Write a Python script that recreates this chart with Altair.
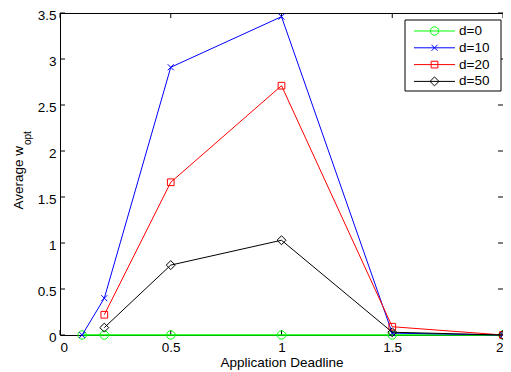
import altair as alt
import pandas as pd

# ---- data ----
x_vals = [0.1, 0.2, 0.5, 1.0, 1.5, 2.0]
series_names = ["d=0", "d=10", "d=20", "d=50"]
d0 = [0.0, 0.0, 0.0, 0.0, 0.0, 0.0]
d10 = [0.0, 0.40, 2.91, 3.46, 0.02, 0.0]
d20 = [None, 0.22, 1.66, 2.71, 0.09, 0.0]
d50 = [None, 0.08, 0.76, 1.03, 0.03, 0.0]
x_ticks = [0, 0.5, 1, 1.5, 2]
y_ticks = [0, 0.5, 1, 1.5, 2, 2.5, 3, 3.5]

colors = ["#00ff00", "#0000ff", "#ff0000", "#000000"]
X_PATH = "M-1,-1L1,1M-1,1L1,-1"
shapes = ["circle", X_PATH, "square", "diamond"]
sizes = [70, 36, 45, 80]

W, H = 443, 322
PAD_L = 52
FONT = "Liberation Sans"
FS = 13.5

xs = alt.Scale(domain=[0, 2], nice=False, zero=False)
ys = alt.Scale(domain=[0, 3.5], nice=False, zero=False)

layers = []

base_df = pd.DataFrame({"x": x_vals, "y": d0})
axis_layer = alt.Chart(base_df).mark_point(opacity=0).encode(
    x=alt.X("x:Q", scale=xs, axis=alt.Axis(values=x_ticks, format="~g", ticks=False, domain=False, grid=False,
                                          labelFont=FONT, labelFontSize=FS, labelColor="black",
                                          labelPadding=5, title="Application Deadline",
                                          titleFont=FONT, titleFontSize=FS, titleFontWeight="normal",
                                          titleColor="black", titlePadding=2)),
    y=alt.Y("y:Q", scale=ys, axis=alt.Axis(values=y_ticks, format="~g", ticks=False, domain=False, grid=False,
                                          labelFont=FONT, labelFontSize=FS, labelColor="black",
                                          labelPadding=4, labelOffset=2, title=None)),
)
layers.append(axis_layer)

# inward ticks
xt = pd.DataFrame({"x": x_ticks})
yt = pd.DataFrame({"y": y_ticks})
tick_len = 5
layers.append(alt.Chart(xt).mark_rule(color="black", strokeWidth=1).encode(
    x=alt.X("x:Q", scale=xs), y=alt.value(H), y2=alt.value(H - tick_len)))
layers.append(alt.Chart(xt).mark_rule(color="black", strokeWidth=1).encode(
    x=alt.X("x:Q", scale=xs), y=alt.value(0), y2=alt.value(tick_len)))
layers.append(alt.Chart(yt).mark_rule(color="black", strokeWidth=1).encode(
    y=alt.Y("y:Q", scale=ys), x=alt.value(0), x2=alt.value(tick_len)))
layers.append(alt.Chart(yt).mark_rule(color="black", strokeWidth=1).encode(
    y=alt.Y("y:Q", scale=ys), x=alt.value(W - tick_len), x2=alt.value(W)))

# series
all_series = [d0, d10, d20, d50]
for name, vals, col, shp, sz in zip(series_names, all_series, colors, shapes, sizes):
    df = pd.DataFrame({"x": x_vals, "y": vals}).dropna()
    sw = 1.6 if name == "d=0" else 1
    layers.append(alt.Chart(df).mark_line(color=col, strokeWidth=sw).encode(
        x=alt.X("x:Q", scale=xs), y=alt.Y("y:Q", scale=ys)))
    layers.append(alt.Chart(df).mark_point(color=col, shape=shp, size=sz, filled=False,
                                           strokeWidth=1, opacity=1).encode(
        x=alt.X("x:Q", scale=xs), y=alt.Y("y:Q", scale=ys)))

# y-axis title with subscript
dummy = pd.DataFrame({"a": [0]})
layers.append(alt.Chart(dummy).mark_text(text="Average w", angle=270, align="right", baseline="middle",
                                          font=FONT, fontSize=FS, color="black").encode(
    x=alt.value(-41), y=alt.value(133)))
layers.append(alt.Chart(dummy).mark_text(text="opt", angle=270, align="left", baseline="middle",
                                          font=FONT, fontSize=10, color="black").encode(
    x=alt.value(-32), y=alt.value(132)))

# legend
LX0 = W - 2 - 96
LX1 = W - 2
layers.append(alt.Chart(dummy).mark_rect(fill="white", stroke="black", strokeWidth=1).encode(
    x=alt.value(LX0), x2=alt.value(LX1), y=alt.value(7), y2=alt.value(78)))
for i, (name, col, shp, sz) in enumerate(zip(series_names, colors, shapes, sizes)):
    yy = 18 + i * 16.8
    ld = pd.DataFrame({"name": [name]})
    layers.append(alt.Chart(ld).mark_rule(color=col, strokeWidth=1).encode(
        x=alt.value(LX0 + 9), x2=alt.value(LX0 + 50), y=alt.value(yy)))
    layers.append(alt.Chart(ld).mark_point(color=col, shape=shp, size=sz, filled=False,
                                           strokeWidth=1, opacity=1).encode(
        x=alt.value(LX0 + 29.5), y=alt.value(yy)))
    layers.append(alt.Chart(ld).mark_text(align="left", baseline="middle", font=FONT,
                                          fontSize=FS, color="black").encode(
        x=alt.value(LX0 + 54), y=alt.value(yy), text="name:N"))

chart = alt.layer(*layers).properties(
    width=W, height=H,
    autosize=alt.AutoSizeParams(type="none"),
    padding={"left": PAD_L, "top": 5, "right": 0, "bottom": 40},
    background="white",
).configure_view(stroke="black", strokeWidth=1)

chart.save("out.html", embed_options={"renderer": "svg", "actions": False})
